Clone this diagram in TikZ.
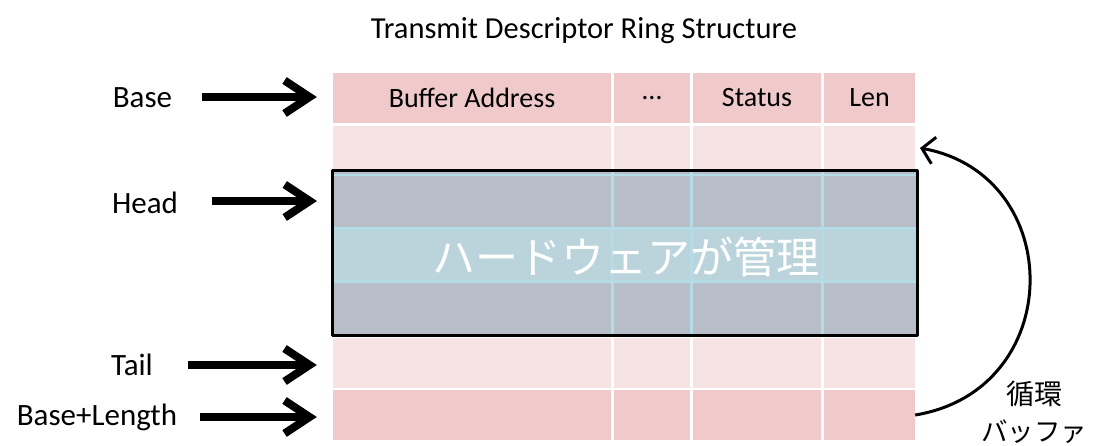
\documentclass[tikz,border=0pt]{standalone}
\usepackage{fontspec}
\setmainfont{Carlito}
\newfontfamily\jpfont{Noto Sans CJK JP}
\usetikzlibrary{arrows.meta}
\definecolor{pinkA}{HTML}{F0CACB}
\definecolor{pinkB}{HTML}{F6E4E5}
\definecolor{grayC}{HTML}{B7BEC7}
\definecolor{blueC}{HTML}{BBD4DC}
\definecolor{gridC}{HTML}{B5DCE6}
\tikzset{
  cell/.style={inner sep=0pt, minimum height=50pt, font=\fontsize{28}{30}\selectfont},
  lbl/.style={inner sep=0pt, font=\fontsize{31}{33}\selectfont},
  fatarrow/.style={line width=8pt, -{Straight Barb[length=25pt,width=33pt]}},
  looparrow/.style={line width=3pt, -{Straight Barb[length=12pt,width=27pt]}},
}
\begin{document}
\begin{tikzpicture}[x=1pt,y=-1pt]
\useasboundingbox (0,0) rectangle (1099,446);
% title
\node[inner sep=0pt, font=\fontsize{30.5}{32}\selectfont] (title) at (584,31) {Transmit Descriptor Ring Structure};
% cells: rows 0,1,5,6
\foreach \r/\cy/\col in {0/98/pinkA,1/151/pinkB,5/363/pinkB,6/415/pinkA}{
  \node[cell, fill=\col, minimum width=278pt] (r\r a) at (472,\cy) {};
  \node[cell, fill=\col, minimum width=76pt]  (r\r b) at (652,\cy) {};
  \node[cell, fill=\col, minimum width=128pt] (r\r c) at (757,\cy) {};
  \node[cell, fill=\col, minimum width=91pt]  (r\r d) at (869.5,\cy) {};
}
\node[cell] (t1) at (r0a) {Buffer Address};
\node[cell] (t2) at (r0b) {\ldots};
\node[cell] (t3) at (r0c) {Status};
\node[cell] (t4) at (r0d) {Len};
% hardware managed box
\fill[grayC] (332.5,170.5) rectangle (917.5,335.5);
\fill[blueC] (332.5,229) rectangle (917.5,281);
\begin{scope}[gridC]
  \draw[line width=2pt] (334,175.5) -- (916,175.5);
  \draw[line width=3pt] (334,228.5) -- (916,228.5);
  \draw[line width=3pt] (334,281.5) -- (916,281.5);
  \foreach \x in {612.5,691.5,822.5}{
    \draw[line width=3pt] (\x,172) -- (\x,334);
  }
\end{scope}
\draw[line width=3pt, line join=round] (332.5,170.5) rectangle (917.5,335.5);
\node[inner sep=0pt, text=white, font=\jpfont\fontsize{43}{46}\selectfont] (hw) at (626,257) {ハードウェアが管理};
% left labels
\node[lbl] (lbase) at (142.5,98) {Base};
\node[lbl] (lhead) at (145,203) {Head};
\node[lbl] (ltail) at (132,365) {Tail};
\node[lbl] (lbl6) at (97,417) {Base+Length};
\coordinate (sbase) at (202,97);
\coordinate (shead) at (212,201);
\coordinate (stail) at (188,365);
\coordinate (slen) at (200,417);
\coordinate (headrow) at (333,201);
\draw[fatarrow, shorten >=16pt] (sbase) -- (sbase -| r0a.west);
\draw[fatarrow, shorten >=16pt] (shead) -- (headrow);
\draw[fatarrow, shorten >=16pt] (stail) -- (stail -| r5a.west);
\draw[fatarrow, shorten >=16pt] (slen) -- (slen -| r6a.west);
% loop arrow
\coordinate (loopend) at (920,148);
\draw[looparrow] (r6d.east) .. controls (1067,390) and (1067,175) .. (loopend);
\node[inner sep=0pt, font=\jpfont\fontsize{28}{30}\selectfont] (loop1) at (1034,394) {循環};
\node[inner sep=0pt, font=\jpfont\fontsize{26.5}{30}\selectfont] (loop2) at (1034,432) {バッファ};
\end{tikzpicture}
\end{document}
